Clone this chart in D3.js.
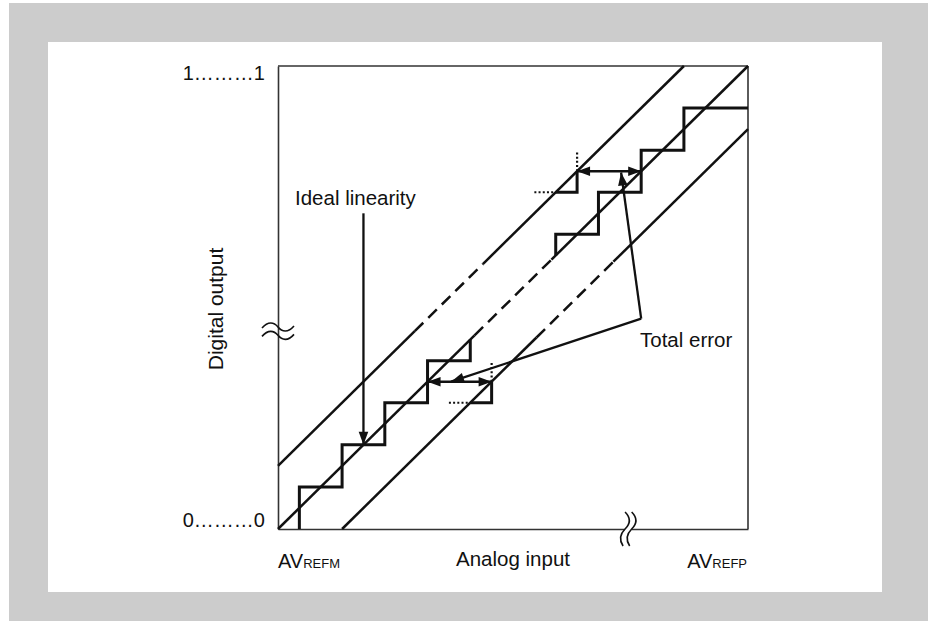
<!DOCTYPE html>
<html>
<head>
<meta charset="utf-8">
<script src="https://cdn.jsdelivr.net/npm/d3@7/dist/d3.min.js"></script>
<style>
  html, body { margin: 0; padding: 0; background: #ffffff; }
  svg { display: block; }
  text { font-family: "Liberation Sans", Arial, Helvetica, sans-serif; fill: #111; }
</style>
</head>
<body>
<script>
// ---------------- data (in LSB units of analog input / digital code) ----------------
const xDomain = [0, 11];
const yDomain = [0, 11];

// three parallel transfer lines, each as solid / dashed / solid pieces
const upperSolidA = [[0, 1.5], [3.2, 4.7]];
const upperDashed = [[3.2, 4.7], [4.8, 6.3]];
const upperSolidB = [[4.8, 6.3], [9.5, 11]];
const idealSolidA = [[0, 0], [4.6, 4.6]];
const idealDashed = [[4.6, 4.6], [6.4, 6.4]];
const idealSolidB = [[6.4, 6.4], [11, 11]];
const lowerSolidA = [[1.5, 0], [6.05, 4.55]];
const lowerDashed = [[6.05, 4.55], [7.85, 6.35]];
const lowerSolidB = [[7.85, 6.35], [11, 9.5]];

// staircases of the converter output
const stairLow  = [[0.5, 0], [0.5, 1], [1.5, 1], [1.5, 2], [2.5, 2], [2.5, 3], [3.5, 3], [3.5, 4], [4.5, 4], [4.5, 4.5]];
const stairHigh = [[6.5, 6.5], [6.5, 7], [7.5, 7], [7.5, 8], [8.5, 8], [8.5, 9], [9.5, 9], [9.5, 10], [11, 10]];
const stepUpperErr = [[6.5, 8], [7, 8], [7, 8.5]];
const stepLowerErr = [[4.5, 3], [5, 3], [5, 3.5]];
const dottedSegs = [
  [[6, 8], [6.5, 8]],
  [[7, 8.5], [7, 9]],
  [[4, 3], [4.5, 3]],
  [[5, 3.5], [5, 4]]
];
// double-headed error arrows
const errorArrows = [
  [[7, 8.5], [8.5, 8.5]],
  [[3.5, 3.5], [5, 3.5]]
];

// annotations
const idealLeader = [[2, 7.5], [2, 2]];
const totalVertex = [8.5, 5.0];
const totalTargets = [[8.03, 8.47], [4.05, 3.5]];
const idealLabel = "Ideal linearity";
const totalLabel = "Total error";

// axis labels
const yTickLabels = ["0………0", "1………1"];
const yTickValues = [0, 11];
const xTickMain = ["AV", "AV"];
const xTickSub = ["REFM", "REFP"];
const xTickValues = [0, 11];
const xTitle = "Analog input";
const yTitle = "Digital output";
const xBreakAt = 8.2;
const yBreakAt = 4.7;

// ---------------- drawing ----------------
const W = 928, H = 621;
const svg = d3.select("body").append("svg").attr("width", W).attr("height", H);

svg.append("rect").attr("x", 9).attr("y", 3).attr("width", W - 9).attr("height", H - 3).attr("fill", "#cccccc");
svg.append("rect").attr("x", 48).attr("y", 42).attr("width", 834).attr("height", 550).attr("fill", "#ffffff");

const x = d3.scaleLinear().domain(xDomain).range([278, 748]);
const y = d3.scaleLinear().domain(yDomain).range([529, 66]);

const defs = svg.append("defs");
defs.append("marker")
  .attr("id", "ah")
  .attr("viewBox", "-14 -6 15 12")
  .attr("refX", 0).attr("refY", 0)
  .attr("markerWidth", 15).attr("markerHeight", 12)
  .attr("markerUnits", "userSpaceOnUse")
  .attr("orient", "auto-start-reverse")
  .append("path").attr("d", "M0,0 L-13,-4.8 L-13,4.8 Z").attr("fill", "#111");

// frame via axes
const frameColor = "#333333";
const gx = svg.append("g").attr("transform", `translate(0,${y(0)})`)
  .call(d3.axisBottom(x).tickValues([]).tickSizeOuter(0));
const gy = svg.append("g").attr("transform", `translate(${x(0)},0)`)
  .call(d3.axisLeft(y).tickValues([]).tickSizeOuter(0));
svg.selectAll(".domain").attr("stroke", frameColor).attr("stroke-width", 1.6);
svg.append("line").attr("x1", x(0)).attr("x2", x(11)).attr("y1", y(11)).attr("y2", y(11))
  .attr("stroke", frameColor).attr("stroke-width", 1.6);
svg.append("line").attr("x1", x(11)).attr("x2", x(11)).attr("y1", y(0)).attr("y2", y(11))
  .attr("stroke", frameColor).attr("stroke-width", 1.6);

const line = d3.line().x(d => x(d[0])).y(d => y(d[1]));

// parallel lines
[upperSolidA, upperSolidB, idealSolidA, idealSolidB, lowerSolidA, lowerSolidB].forEach(seg => {
  svg.append("path").attr("d", line(seg)).attr("fill", "none")
    .attr("stroke", "#111").attr("stroke-width", 2.5);
});
[upperDashed, idealDashed, lowerDashed].forEach(seg => {
  svg.append("path").attr("d", line(seg)).attr("fill", "none")
    .attr("stroke", "#111").attr("stroke-width", 2.5).attr("stroke-dasharray", "12,7");
});

// staircases
[stairLow, stairHigh, stepUpperErr, stepLowerErr].forEach(seg => {
  svg.append("path").attr("d", line(seg)).attr("fill", "none")
    .attr("stroke", "#111").attr("stroke-width", 3).attr("stroke-linejoin", "miter");
});

// dotted extensions
dottedSegs.forEach(seg => {
  svg.append("path").attr("d", line(seg)).attr("fill", "none")
    .attr("stroke", "#111").attr("stroke-width", 2.2).attr("stroke-dasharray", "2,2.2");
});

// error double arrows
errorArrows.forEach(seg => {
  svg.append("path").attr("d", line(seg)).attr("fill", "none")
    .attr("stroke", "#111").attr("stroke-width", 2.5)
    .attr("marker-start", "url(#ah)").attr("marker-end", "url(#ah)");
});

// ideal linearity leader
svg.append("path").attr("d", line(idealLeader)).attr("fill", "none")
  .attr("stroke", "#111").attr("stroke-width", 2.3).attr("marker-end", "url(#ah)");
svg.append("text").attr("x", 295).attr("y", 205).attr("font-size", 20.5).text(idealLabel);

// total error leaders
totalTargets.forEach(t => {
  svg.append("path").attr("d", line([totalVertex, t])).attr("fill", "none")
    .attr("stroke", "#111").attr("stroke-width", 2.3).attr("marker-end", "url(#ah)");
});
svg.append("text").attr("x", 640).attr("y", 347).attr("font-size", 20.5).text(totalLabel);

// break marks
const yb = y(yBreakAt), x0 = x(0);
[-4.2, 4.2].forEach(o => {
  svg.append("path")
    .attr("d", `M${x0 - 16},${yb + o + 1} C${x0 - 10},${yb + o - 6} ${x0 - 4},${yb + o - 5} ${x0},${yb + o} C${x0 + 4},${yb + o + 5} ${x0 + 10},${yb + o + 6} ${x0 + 16},${yb + o - 1}`)
    .attr("fill", "none").attr("stroke", "#111").attr("stroke-width", 1.6);
});
const xb = x(xBreakAt), y0 = y(0);
svg.append("rect").attr("x", xb - 3.5).attr("y", y0 - 2).attr("width", 7).attr("height", 4).attr("fill", "#fff");
[-3.3, 3.3].forEach(o => {
  svg.append("path")
    .attr("d", `M${xb + o},${y0 - 17} C${xb + o + 6},${y0 - 11} ${xb + o + 5},${y0 - 5} ${xb + o},${y0} C${xb + o - 5},${y0 + 5} ${xb + o - 6},${y0 + 11} ${xb + o - 2},${y0 + 17}`)
    .attr("fill", "none").attr("stroke", "#111").attr("stroke-width", 1.6);
});

// y tick labels
const yOff = [-2, 14];
yTickValues.forEach((v, i) => {
  svg.append("text").attr("x", x(0) - 13).attr("y", y(v) + yOff[i])
    .attr("text-anchor", "end").attr("font-size", 20).text(yTickLabels[i]);
});

// x tick labels
const anchors = ["start", "end"];
xTickValues.forEach((v, i) => {
  const t = svg.append("text").attr("x", x(v) + (i === 0 ? 0 : -1)).attr("y", 568)
    .attr("text-anchor", anchors[i]);
  t.append("tspan").attr("font-size", 20).text(xTickMain[i]);
  t.append("tspan").attr("font-size", 13).text(xTickSub[i]);
});

// axis titles
svg.append("text").attr("x", (x(0) + x(11)) / 2).attr("y", 566)
  .attr("text-anchor", "middle").attr("font-size", 20.5).text(xTitle);
svg.append("text").attr("transform", `translate(223,309) rotate(-90)`)
  .attr("text-anchor", "middle").attr("font-size", 21).text(yTitle);
</script>
</body>
</html>
